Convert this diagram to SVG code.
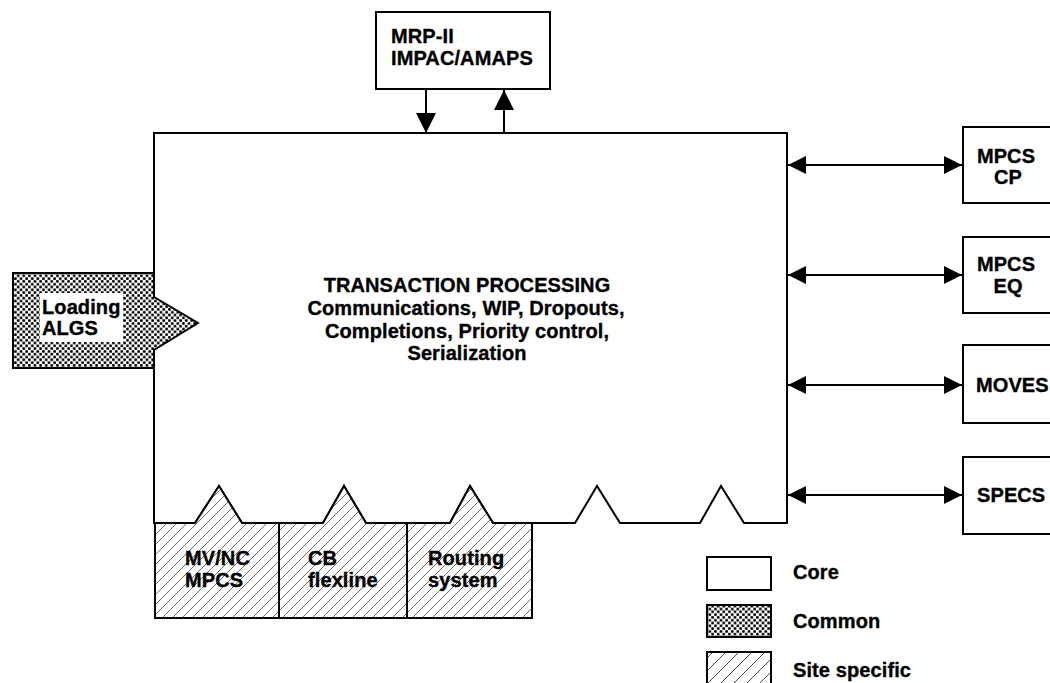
<svg xmlns="http://www.w3.org/2000/svg" width="1050" height="683" viewBox="0 0 1050 683">
  <defs>
    <!-- halftone dots for "common" modules -->
    <pattern id="dots" patternUnits="userSpaceOnUse" width="5.6" height="5.6">
      <rect width="5.6" height="5.6" fill="#fff"/>
      <circle cx="1.4" cy="1.4" r="1.45" fill="#000"/>
      <circle cx="4.2" cy="4.2" r="1.45" fill="#000"/>
    </pattern>
    <!-- diagonal hatch for "site specific" modules -->
    <pattern id="hatch" patternUnits="userSpaceOnUse" width="10" height="10">
      <rect width="10" height="10" fill="#fff"/>
      <path d="M-1,11 L11,-1" stroke="#444" stroke-width="0.8"/>
    </pattern>
    <pattern id="hatchWide" patternUnits="userSpaceOnUse" width="13" height="13">
      <rect width="13" height="13" fill="#fff"/>
      <path d="M-1,14 L14,-1" stroke="#333" stroke-width="0.9"/>
    </pattern>
    <marker id="arrow" viewBox="0 0 18 18" refX="18" refY="9" markerWidth="18" markerHeight="18" markerUnits="userSpaceOnUse" orient="auto-start-reverse">
      <path d="M0,0 L18,9 L0,18 z" fill="#000"/>
    </marker>
    <marker id="arrowV" viewBox="0 0 20 20" refX="20" refY="10" markerWidth="20" markerHeight="20" markerUnits="userSpaceOnUse" orient="auto-start-reverse">
      <path d="M0,0 L20,10 L0,20 z" fill="#000"/>
    </marker>
  </defs>
  <style>
    .box { fill: #fff; stroke: #000; stroke-width: 2; stroke-linejoin: miter; }
    .common { fill: url(#dots); stroke: #000; stroke-width: 2; }
    .site { fill: url(#hatch); stroke: #000; stroke-width: 2; stroke-linejoin: miter; }
    .lbl { font-family: "Liberation Sans", Arial, Helvetica, sans-serif; font-weight: bold; font-size: 20px; letter-spacing: 0.1px; fill: #000; stroke: #000; stroke-width: 0.35px; }
    .mid { text-anchor: middle; }
    .link { stroke: #000; stroke-width: 2; fill: none; }
  </style>

  <rect width="1050" height="683" fill="#fff"/>

  <!-- central transaction processing block with plug-in slots along the bottom -->
  <g id="transaction-processing">
    <path class="box" d="M154,133 L787,133 L787,523 L744,523 L721,486 L700,523 L620,523 L597,486 L575,523 L493,523 L470,486 L450,523 L366,523 L344,486 L323,523 L242,523 L219,486 L195,523 L154,523 Z"/>
    <text class="lbl mid" x="467" y="292">TRANSACTION PROCESSING</text>
    <text class="lbl mid" x="466" y="315">Communications, WIP, Dropouts,</text>
    <text class="lbl mid" x="467" y="338">Completions, Priority control,</text>
    <text class="lbl mid" x="467" y="360">Serialization</text>
  </g>

  <!-- common module plugged into the left side -->
  <g id="loading-algs">
    <path class="common" d="M13,273 L154,273 L154,297 L198,323 L154,350 L154,368 L13,368 Z"/>
    <rect x="40" y="293" width="83" height="49" fill="#fff"/>
    <text class="lbl" x="42" y="314">Loading</text>
    <text class="lbl" x="42" y="335">ALGS</text>
  </g>

  <!-- site specific modules plugged into the bottom slots -->
  <g id="mv-nc-mpcs">
    <path class="site" d="M155,523 L195,523 L219,486 L242,523 L279,523 L279,618 L155,618 Z"/>
    <text class="lbl" x="185" y="565">MV/NC</text>
    <text class="lbl" x="185" y="587">MPCS</text>
  </g>
  <g id="cb-flexline">
    <path class="site" d="M279,523 L323,523 L344,486 L366,523 L407,523 L407,618 L279,618 Z"/>
    <text class="lbl" x="308" y="565">CB</text>
    <text class="lbl" x="308" y="587">flexline</text>
  </g>
  <g id="routing-system">
    <path class="site" d="M407,523 L450,523 L470,486 L493,523 L532,523 L532,618 L407,618 Z"/>
    <text class="lbl" x="428" y="565">Routing</text>
    <text class="lbl" x="428" y="587">system</text>
  </g>

  <!-- external systems -->
  <g id="mrp-ii">
    <rect class="box" x="376" y="12" width="174" height="77"/>
    <text class="lbl" x="391" y="43">MRP-II</text>
    <text class="lbl" x="391" y="65">IMPAC/AMAPS</text>
  </g>
  <g id="mpcs-cp">
    <rect class="box" x="963" y="127" width="100" height="76"/>
    <text class="lbl mid" x="1006" y="163">MPCS</text>
    <text class="lbl mid" x="1008" y="184">CP</text>
  </g>
  <g id="mpcs-eq">
    <rect class="box" x="963" y="237" width="100" height="76"/>
    <text class="lbl mid" x="1006" y="271">MPCS</text>
    <text class="lbl mid" x="1008" y="293">EQ</text>
  </g>
  <g id="moves">
    <rect class="box" x="963" y="345" width="100" height="78"/>
    <text class="lbl" x="976" y="392">MOVES</text>
  </g>
  <g id="specs">
    <rect class="box" x="963" y="457" width="100" height="77"/>
    <text class="lbl" x="977" y="502">SPECS</text>
  </g>

  <!-- data flows -->
  <g id="connectors">
    <line class="link" x1="426" y1="89" x2="426" y2="133" marker-end="url(#arrowV)"/>
    <line class="link" x1="504" y1="133" x2="504" y2="90" marker-end="url(#arrowV)"/>
    <line class="link" x1="788" y1="165" x2="962" y2="165" marker-start="url(#arrow)" marker-end="url(#arrow)"/>
    <line class="link" x1="788" y1="275" x2="962" y2="275" marker-start="url(#arrow)" marker-end="url(#arrow)"/>
    <line class="link" x1="788" y1="385" x2="962" y2="385" marker-start="url(#arrow)" marker-end="url(#arrow)"/>
    <line class="link" x1="788" y1="495" x2="962" y2="495" marker-start="url(#arrow)" marker-end="url(#arrow)"/>
  </g>

  <!-- legend -->
  <g id="legend">
    <rect class="box" x="707" y="557" width="64" height="33"/>
    <text class="lbl" x="793" y="579">Core</text>
    <rect class="common" x="707" y="605" width="64" height="32"/>
    <text class="lbl" x="793" y="628">Common</text>
    <rect x="707" y="652" width="64" height="40" fill="url(#hatchWide)" stroke="#000" stroke-width="2"/>
    <text class="lbl" x="793" y="677">Site specific</text>
  </g>
</svg>
